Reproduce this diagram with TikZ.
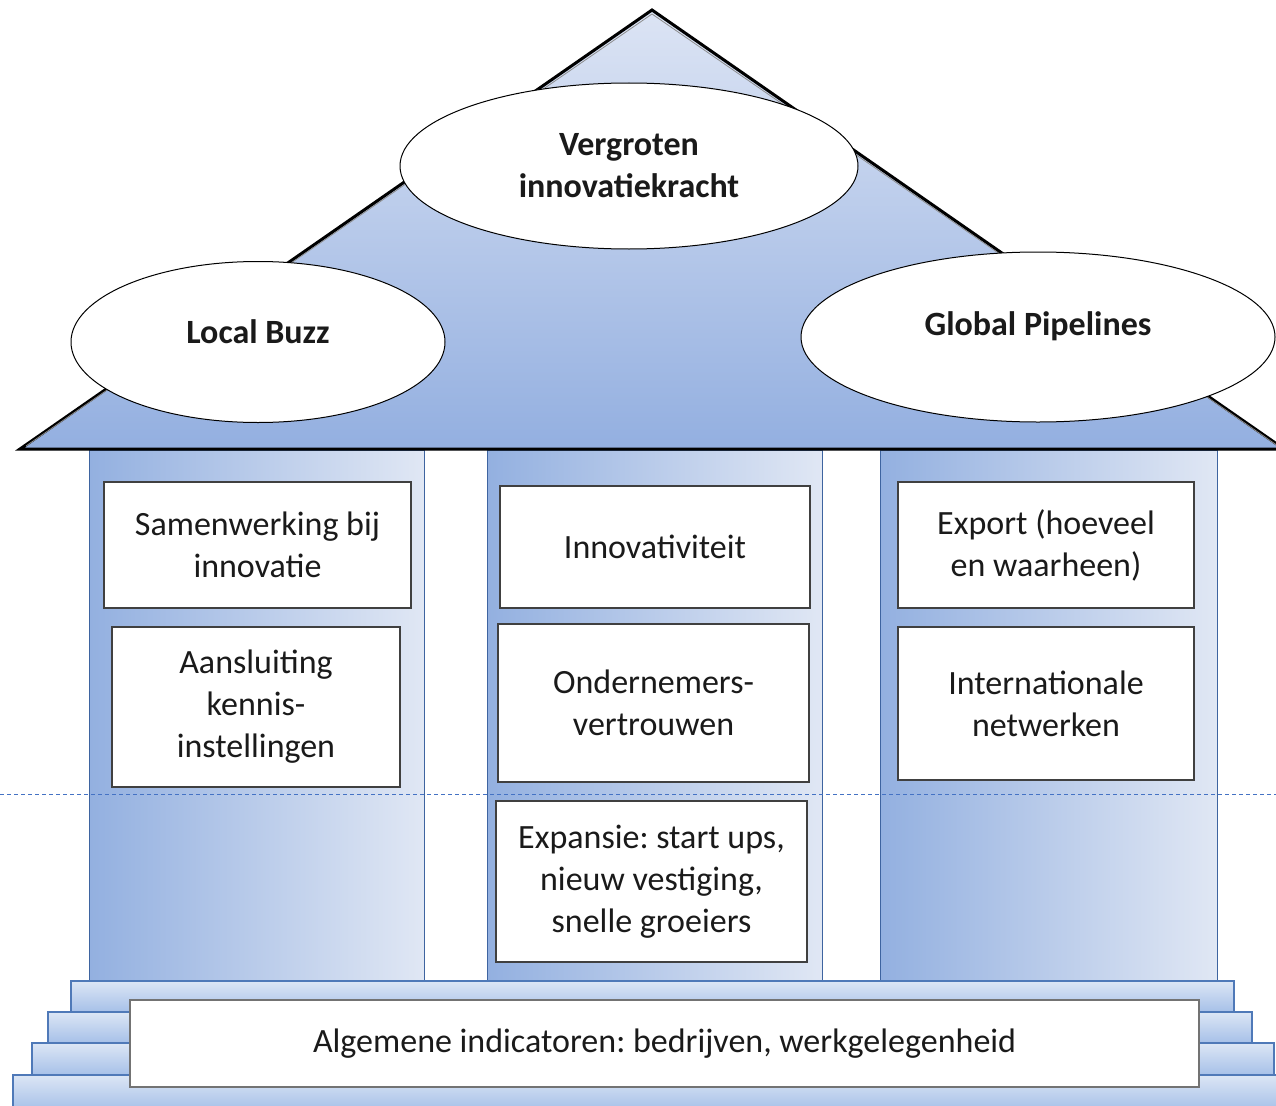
\documentclass[tikz,border=0pt]{standalone}
\usepackage{fontspec}
\setmainfont{Carlito}
\frenchspacing
\usetikzlibrary{shapes.geometric}
\definecolor{txt}{HTML}{1A1A1A}
\definecolor{pdark}{HTML}{93B0E0}
\definecolor{plight}{HTML}{E0E7F4}
\definecolor{pedge}{HTML}{3E64A0}
\definecolor{rooftop}{HTML}{DCE4F4}
\definecolor{roofbot}{HTML}{93AFE0}
\definecolor{steptop}{HTML}{DCE6F5}
\definecolor{stepbot}{HTML}{A6C0E8}
\definecolor{stepedge}{HTML}{4F79B8}
\definecolor{dashc}{HTML}{4472C4}
\tikzset{
  pillar/.style={left color=pdark, right color=plight, draw=pedge, line width=1pt},
  stair/.style={top color=steptop, bottom color=stepbot, draw=stepedge, line width=1.2pt},
  box/.style={draw=black!75, line width=1.6pt, fill=white, inner sep=0pt, align=center, text=txt,
    font=\fontsize{34}{42}\selectfont},
  oval/.style={ellipse, draw=black, line width=1pt, fill=white, inner sep=0pt, align=center, text=txt,
    font=\fontsize{34}{42}\selectfont\bfseries},
}
\begin{document}
\begin{tikzpicture}[x=1pt,y=-1pt]
\useasboundingbox (0,0) rectangle (1276,1105);
\clip (0,0) rectangle (1276,1105);
% pillars
\path[pillar] (89,450) rectangle (424,981);
\path[pillar] (487,450) rectangle (822,981);
\path[pillar] (880,450) rectangle (1217,981);
% dashed line
\coordinate (dl) at (0,794);
\coordinate (dr) at (1276,794);
\draw[dashc, dashed, dash pattern=on 4pt off 3pt, line width=1pt] (dl) -- (dr);
% steps
\path[stair] (71,981) rectangle (1234,1012);
\path[stair] (48,1012) rectangle (1252,1043);
\path[stair] (32,1043) rectangle (1274,1075);
\path[stair] (13,1075) rectangle (1300,1110);
% roof
\shade[top color=rooftop, bottom color=roofbot] (20,450) -- (652,10) -- (1284,450) -- cycle;
\draw[black, line width=3pt, line join=miter] (20,449) -- (652,10) -- (1284,449) -- cycle;
\draw[black!45, line width=0.8pt] (26,446) -- (652,14) -- (1278,446);
% ellipses
\node[oval, minimum width=458pt, minimum height=166pt] (verg) at (629,166) {Vergroten\\innovatiekracht};
\node[oval, minimum width=374pt, minimum height=161pt] (buzz) at (258,342) {\raisebox{20pt}{Local Buzz}};
\node[oval, minimum width=474pt, minimum height=170pt] (glob) at (1038,337) {\raisebox{26pt}{Global Pipelines}};
% boxes
\node[box, minimum width=307pt, minimum height=126pt] (sam) at (257.5,545) {Samenwerking bij\\innovatie};
\node[box, minimum width=288pt, minimum height=160pt] (aan) at (256,707) {Aansluiting\\kennis-\\instellingen};
\node[box, minimum width=310pt, minimum height=122pt] (inn) at (655,547) {Innovativiteit};
\node[box, minimum width=311pt, minimum height=158pt] (ond) at (653.5,703) {Ondernemers-\\vertrouwen};
\node[box, minimum width=311pt, minimum height=161pt] (exp) at (651.5,881.5) {Expansie: start ups,\\nieuw vestiging,\\snelle groeiers};
\node[box, minimum width=296pt, minimum height=126pt] (expo) at (1046,545) {Export (hoeveel\\en waarheen)};
\node[box, minimum width=296pt, minimum height=153pt] (intl) at (1046,703.5) {Internationale\\netwerken};
\node[box, draw=black!55, line width=1.2pt, minimum width=1069pt, minimum height=87pt] (base) at (664.5,1043.5) {Algemene indicatoren: bedrijven, werkgelegenheid};
\end{tikzpicture}
\end{document}
